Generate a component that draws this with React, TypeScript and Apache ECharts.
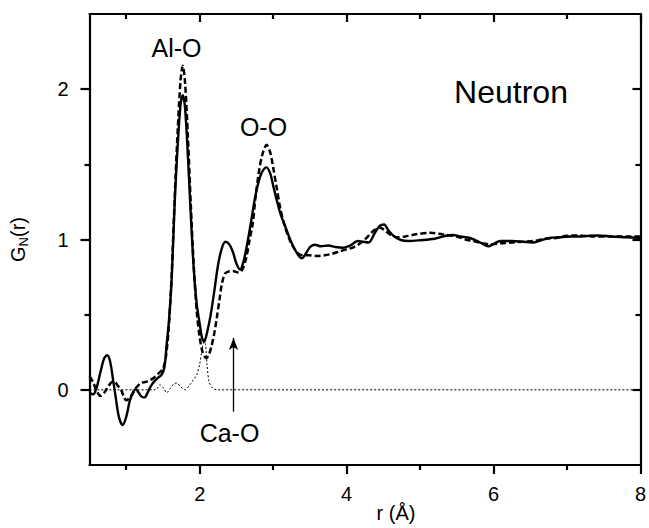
import React, { useEffect, useRef } from 'react';
import * as echarts from 'echarts';

const FONT = '"Liberation Sans", Arial, Helvetica, sans-serif';

// Tick values
const xMajorTicks = [2, 4, 6, 8];
const xMinorTicks = [1, 3, 5, 7];
const yMajorTicks = [0, 1, 2];
const yMinorTicks = [0.5, 1.5];

// Solid curve
const rSolid = [0.5, 0.55, 0.6, 0.65, 0.7, 0.74, 0.78, 0.82, 0.86, 0.9, 0.95, 1.0, 1.05, 1.1, 1.13, 1.17, 1.21, 1.25, 1.29, 1.33, 1.38, 1.43, 1.48, 1.52, 1.55, 1.58, 1.62, 1.66, 1.7, 1.74, 1.77, 1.8, 1.84, 1.88, 1.92, 1.96, 2.0, 2.03, 2.06, 2.1, 2.15, 2.2, 2.25, 2.3, 2.35, 2.4, 2.45, 2.5, 2.55, 2.6, 2.65, 2.7, 2.75, 2.8, 2.85, 2.91, 2.96, 3.0, 3.05, 3.1, 3.17, 3.24, 3.3, 3.35, 3.39, 3.45, 3.5, 3.57, 3.65, 3.75, 3.85, 3.95, 4.05, 4.15, 4.22, 4.3, 4.38, 4.45, 4.51, 4.57, 4.65, 4.75, 4.85, 5.0, 5.2, 5.35, 5.45, 5.55, 5.68, 5.8, 5.93, 6.0, 6.09, 6.25, 6.4, 6.53, 6.65, 6.76, 6.9, 7.05, 7.2, 7.3, 7.43, 7.6, 7.8, 8.0];
const gSolid = [-0.02, -0.03, 0.02, 0.12, 0.21, 0.23, 0.19, 0.07, -0.06, -0.18, -0.235, -0.18, -0.07, -0.01, 0.005, -0.02, -0.045, -0.05, -0.02, 0.02, 0.055, 0.08, 0.1, 0.15, 0.3, 0.45, 0.75, 1.25, 1.62, 1.9, 1.96, 1.88, 1.55, 1.15, 0.8, 0.57, 0.44, 0.35, 0.32, 0.38, 0.5, 0.66, 0.83, 0.94, 0.985, 0.97, 0.92, 0.84, 0.8, 0.86, 0.98, 1.12, 1.27, 1.38, 1.45, 1.48, 1.44, 1.36, 1.26, 1.17, 1.08, 0.99, 0.93, 0.89, 0.875, 0.91, 0.95, 0.965, 0.955, 0.96, 0.95, 0.945, 0.96, 0.99, 0.985, 0.98, 1.04, 1.09, 1.1, 1.06, 1.02, 0.995, 0.99, 0.995, 1.005, 1.025, 1.03, 1.02, 1.01, 0.985, 0.955, 0.97, 0.99, 0.99, 0.985, 0.98, 0.995, 1.01, 1.015, 1.02, 1.02, 1.025, 1.027, 1.02, 1.015, 1.01];

// Dashed curve
const rDashed = [0.5, 0.55, 0.6, 0.65, 0.7, 0.75, 0.8, 0.84, 0.88, 0.93, 0.97, 1.0, 1.04, 1.08, 1.13, 1.2, 1.28, 1.37, 1.44, 1.5, 1.54, 1.58, 1.62, 1.66, 1.7, 1.74, 1.77, 1.8, 1.84, 1.88, 1.92, 1.96, 2.0, 2.04, 2.09, 2.13, 2.16, 2.2, 2.23, 2.27, 2.3, 2.34, 2.38, 2.45, 2.53, 2.58, 2.63, 2.68, 2.72, 2.76, 2.8, 2.85, 2.91, 2.96, 3.0, 3.05, 3.1, 3.17, 3.24, 3.3, 3.36, 3.42, 3.5, 3.6, 3.7, 3.8, 3.9, 4.0, 4.1, 4.2, 4.29, 4.37, 4.45, 4.52, 4.6, 4.7, 4.8, 4.95, 5.14, 5.3, 5.5, 5.62, 5.72, 5.85, 5.95, 6.1, 6.26, 6.4, 6.55, 6.7, 6.85, 7.0, 7.15, 7.35, 7.6, 7.8, 8.0];
const gDashed = [0.09, 0.05, -0.01, -0.04, -0.02, 0.02, 0.05, 0.055, 0.03, 0.0, -0.05, -0.07, -0.055, -0.03, 0.01, 0.045, 0.055, 0.078, 0.11, 0.14, 0.22, 0.42, 0.78, 1.28, 1.72, 2.06, 2.155, 2.05, 1.68, 1.22, 0.82, 0.52, 0.35, 0.25, 0.21, 0.24, 0.29, 0.38, 0.47, 0.6, 0.7, 0.77, 0.785, 0.79, 0.78, 0.8, 0.87, 1.0, 1.1, 1.28, 1.43, 1.56, 1.63, 1.58, 1.48, 1.34, 1.2, 1.07, 0.98, 0.93, 0.9, 0.895, 0.895, 0.89, 0.895, 0.905, 0.92, 0.935, 0.95, 0.98, 1.02, 1.06, 1.08, 1.06, 1.03, 1.015, 1.02, 1.035, 1.045, 1.035, 1.02, 1.0, 0.99, 0.975, 0.967, 0.975, 0.98, 0.985, 0.99, 1.005, 1.01, 1.025, 1.027, 1.02, 1.02, 1.02, 1.02];

// Dotted curve
const rDotted = [0.5, 1.4, 1.46, 1.51, 1.55, 1.6, 1.65, 1.69, 1.74, 1.8, 1.86, 1.92, 1.96, 2.0, 2.03, 2.06, 2.08, 2.1, 2.13, 2.18, 2.25, 8.0, 8.0];
const gDotted = [0, 0, 0.033, 0.01, -0.02, 0.01, 0.04, 0.045, 0.02, 0.0, 0.03, 0.07, 0.1, 0.17, 0.26, 0.32, 0.3, 0.17, 0.05, 0.01, 0, 0, 1.0];

// Arrow pointing at Ca-O contribution
const arrowR = 2.46;
const arrowFrom = -0.145;
const arrowTo = 0.345;

const zip = (a: number[], b: number[]) => a.map((v, i) => [v, b[i]]);

const blackLine = { color: '#000', width: 2.2 };

function xAxisDef(position: string, ticks: number[], len: number, inside: boolean, showLine: boolean, showLabel: boolean) {
  return {
    type: 'value',
    position,
    min: 0.5,
    max: 8,
    axisLine: { show: showLine, onZero: false, lineStyle: blackLine },
    axisTick: { show: true, customValues: ticks, length: len, inside, lineStyle: blackLine },
    axisLabel: showLabel
      ? { show: true, customValues: ticks, margin: 19, fontSize: 20, color: '#000', fontFamily: FONT }
      : { show: false },
    splitLine: { show: false },
  };
}

function yAxisDef(position: string, ticks: number[], len: number, inside: boolean, showLine: boolean, showLabel: boolean, extra: any = {}) {
  return {
    type: 'value',
    position,
    min: -0.5,
    max: 2.5,
    axisLine: { show: showLine, onZero: false, lineStyle: blackLine },
    axisTick: { show: true, customValues: ticks, length: len, inside, lineStyle: blackLine },
    axisLabel: showLabel
      ? { show: true, customValues: ticks, margin: 21, fontSize: 20, color: '#000', fontFamily: FONT }
      : { show: false },
    splitLine: { show: false },
    ...extra,
  };
}

export default function App() {
  const ref = useRef<HTMLDivElement>(null);
  useEffect(() => {
    if (!ref.current) return;
    const chart = echarts.init(ref.current, undefined, { renderer: 'svg' });
    chart.setOption({
      animation: false,
      backgroundColor: '#fff',
      grid: { left: 85, right: 6, top: 14, bottom: 63, containLabel: false },
      xAxis: [
        xAxisDef('bottom', xMajorTicks, 9, false, true, true),
        xAxisDef('bottom', xMinorTicks, 5, false, false, false),
        xAxisDef('top', xMajorTicks, 8, true, true, false),
        xAxisDef('top', xMinorTicks, 5, true, false, false),
      ],
      yAxis: [
        yAxisDef('left', yMajorTicks, 9, false, true, true, {
          name: '{g|G}{n|N}{g|(r)}',
          nameLocation: 'middle',
          nameGap: 60,
          nameTextStyle: {
            rich: {
              g: { fontSize: 20, fontFamily: FONT, color: '#000' },
              n: { fontSize: 13, fontFamily: FONT, color: '#000', padding: [10, 0, 0, 0] },
            },
          },
        }),
        yAxisDef('left', yMinorTicks, 5, false, false, false),
        yAxisDef('right', yMajorTicks, 8, true, true, false),
        yAxisDef('right', yMinorTicks, 5, true, false, false),
      ],
      series: [
        {
          name: 'partial',
          type: 'line',
          data: zip(rDotted, gDotted),
          showSymbol: false,
          smooth: 0.3,
          lineStyle: { color: '#000', width: 1, type: [2, 2] },
          z: 1,
          markLine: {
            silent: true,
            symbol: ['none', 'arrow'],
            symbolSize: [7, 12],
            label: { show: false },
            lineStyle: { color: '#000', width: 1.3, type: 'solid' },
            data: [[{ coord: [arrowR, arrowFrom] }, { coord: [arrowR, arrowTo] }]],
          },
        },
        {
          name: 'dashed',
          type: 'line',
          data: zip(rDashed, gDashed),
          showSymbol: false,
          smooth: 0.3,
          lineStyle: { color: '#000', width: 2.5, type: [6, 3] },
          z: 2,
        },
        {
          name: 'solid',
          type: 'line',
          data: zip(rSolid, gSolid),
          showSymbol: false,
          smooth: 0.3,
          lineStyle: { color: '#000', width: 2.4 },
          z: 3,
        },
      ],
      graphic: [
        { type: 'text', x: 176.5, y: 47.5, style: { text: 'Al-O', font: `25px ${FONT}`, fill: '#000', textAlign: 'center', textVerticalAlign: 'middle' } },
        { type: 'text', x: 263.5, y: 126.5, style: { text: 'O-O', font: `25px ${FONT}`, fill: '#000', textAlign: 'center', textVerticalAlign: 'middle' } },
        { type: 'text', x: 229.5, y: 432.5, style: { text: 'Ca-O', font: `25px ${FONT}`, fill: '#000', textAlign: 'center', textVerticalAlign: 'middle' } },
        { type: 'text', x: 511, y: 92, style: { text: 'Neutron', font: `32px ${FONT}`, fill: '#000', textAlign: 'center', textVerticalAlign: 'middle' } },
        { type: 'text', x: 396, y: 513, style: { text: 'r (Å)', font: `20px ${FONT}`, fill: '#000', textAlign: 'center', textVerticalAlign: 'middle' } },
      ],
    });
    return () => chart.dispose();
  }, []);
  return <div ref={ref} style={{ position: 'fixed', left: 0, top: 0, width: 649, height: 528, background: '#fff' }} />;
}
